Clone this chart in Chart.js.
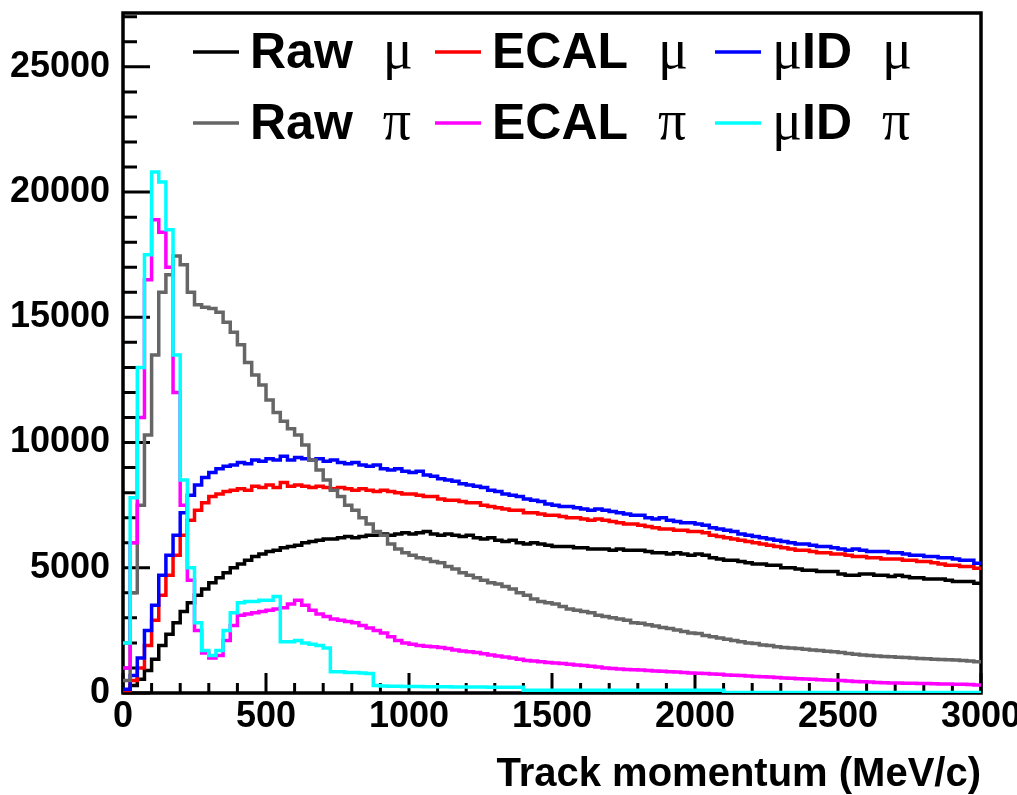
<!DOCTYPE html>
<html>
<head>
<meta charset="utf-8">
<title>Track momentum</title>
<script src="https://cdn.jsdelivr.net/npm/chart.js@4.4.1/dist/chart.umd.min.js"></script>
<style>
  html, body { margin: 0; padding: 0; background: #ffffff; }
  #wrap { width: 1017px; height: 795px; position: relative; }
</style>
</head>
<body>
<div id="wrap"><canvas id="c" width="1017" height="795"></canvas></div>
<script>
// Histogram binning: 120 bins of 25 MeV/c from 0 to 3000 MeV/c
const BIN_WIDTH = 25;
const binLowEdges = Array.from({ length: 120 }, (_, i) => i * BIN_WIDTH);

// Axis tick labels
const xTickValues = [0, 500, 1000, 1500, 2000, 2500, 3000];
const yTickValues = [0, 5000, 10000, 15000, 20000, 25000];

// Entries per bin, one row per 250 MeV/c
const rawMu = [
  80, 300, 550, 900, 1350, 1900, 2350, 2800, 3250, 3600,
  3900, 4150, 4400, 4600, 4800, 5000, 5150, 5300, 5450, 5550,
  5650, 5700, 5800, 5850, 5900, 6000, 6050, 6100, 6150, 6150,
  6200, 6250, 6200, 6250, 6300, 6300, 6350, 6300, 6350, 6400,
  6350, 6400, 6450, 6350, 6300, 6350, 6300, 6250, 6300, 6200,
  6150, 6200, 6100, 6050, 6100, 6000, 5950, 6000, 5950, 5900,
  5850, 5850, 5850, 5800, 5800, 5750, 5750, 5750, 5700, 5750,
  5700, 5700, 5700, 5650, 5600, 5600, 5550, 5600, 5550, 5500,
  5550, 5500, 5400, 5350, 5300, 5300, 5250, 5200, 5150, 5150,
  5100, 5100, 5000, 5000, 4950, 4900, 4900, 4850, 4850, 4850,
  4750, 4700, 4700, 4750, 4750, 4700, 4700, 4650, 4700, 4650,
  4600, 4600, 4550, 4550, 4550, 4500, 4450, 4450, 4450, 4380
];
const ecalMu = [
  100, 500, 1000, 1900, 2900, 3900, 4700, 5500, 6300, 6900,
  7300, 7600, 7850, 7950, 8050, 8100, 8150, 8100, 8250, 8200,
  8300, 8200, 8400, 8250, 8300, 8250, 8200, 8250, 8200, 8150,
  8200, 8150, 8100, 8150, 8100, 8050, 8100, 8050, 8000, 7950,
  7950, 7900, 7850, 7850, 7750, 7700, 7700, 7650, 7600, 7600,
  7500, 7450, 7400, 7350, 7300, 7300, 7200, 7200, 7150, 7100,
  7100, 7050, 7000, 7000, 6950, 6900, 6950, 6900, 6850, 6800,
  6750, 6750, 6700, 6650, 6600, 6550, 6550, 6500, 6500, 6450,
  6450, 6400, 6300, 6250, 6200, 6150, 6100, 6050, 6000, 5950,
  5900, 5850, 5800, 5750, 5700, 5700, 5650, 5600, 5600, 5550,
  5550, 5500, 5450, 5450, 5400, 5400, 5350, 5350, 5350, 5300,
  5300, 5250, 5250, 5200, 5150, 5100, 5100, 5050, 5050, 4980
];
const idMu = [
  150, 700, 1400, 2500, 3500, 4700, 5500, 6300, 7200, 7900,
  8300, 8600, 8800, 8950, 9050, 9100, 9200, 9150, 9300, 9250,
  9350, 9300, 9450, 9300, 9400, 9350, 9300, 9350, 9250, 9300,
  9200, 9150, 9200, 9100, 9050, 9100, 8950, 8900, 8950, 8850,
  8800, 8850, 8700, 8650, 8550, 8500, 8450, 8350, 8300, 8250,
  8200, 8100, 8050, 7950, 7900, 7850, 7750, 7700, 7650, 7550,
  7500, 7450, 7450, 7400, 7350, 7300, 7350, 7300, 7250, 7200,
  7150, 7100, 7100, 7000, 6950, 7000, 6900, 6850, 6800, 6800,
  6750, 6700, 6600, 6550, 6500, 6450, 6350, 6300, 6250, 6200,
  6150, 6100, 6050, 6000, 5950, 5950, 5900, 5850, 5850, 5800,
  5750, 5700, 5750, 5700, 5650, 5650, 5650, 5600, 5600, 5550,
  5500, 5500, 5450, 5450, 5400, 5400, 5350, 5300, 5300, 5180
];
const rawPi = [
  500, 4000, 7500, 10300, 13500, 16000, 16700, 17450, 17100, 16000,
  15500, 15400, 15350, 15200, 14800, 14400, 13900, 13200, 12700, 12300,
  11700, 11200, 10850, 10550, 10300, 9900, 9300, 8900, 8500, 8100,
  7850, 7500, 7300, 7000, 6750, 6450, 6300, 5950, 5750, 5600,
  5500, 5400, 5350, 5250, 5200, 5050, 4950, 4800, 4700, 4600,
  4500, 4400, 4350, 4250, 4150, 4000, 3900, 3750, 3650, 3600,
  3550, 3450, 3350, 3300, 3250, 3200, 3100, 3050, 3000, 2950,
  2900, 2800, 2780, 2720, 2680, 2620, 2580, 2520, 2460, 2400,
  2380, 2300, 2250, 2200, 2150, 2100, 2050, 2000, 1980, 1920,
  1900, 1850, 1820, 1800, 1780, 1750, 1720, 1700, 1670, 1650,
  1620, 1580, 1550, 1520, 1500, 1480, 1460, 1450, 1430, 1420,
  1400, 1380, 1370, 1350, 1340, 1330, 1320, 1300, 1280, 1250
];
const ecalPi = [
  1000, 6000, 11000, 16500, 18900, 18400, 17000, 12000, 7500, 4500,
  2500, 1600, 1400, 1500, 2100, 2700, 3100, 3150, 3200, 3250,
  3300, 3350, 3400, 3550, 3700, 3500, 3300, 3150, 3050, 2950,
  2900, 2850, 2800, 2700, 2600, 2500, 2400, 2250, 2100, 2000,
  1950, 1900, 1870, 1850, 1820, 1780, 1720, 1680, 1650, 1620,
  1570, 1520, 1480, 1440, 1400, 1350, 1300, 1280, 1250, 1220,
  1200, 1180, 1150, 1120, 1100, 1070, 1040, 1000, 980, 960,
  940, 930, 920, 900, 880, 870, 850, 840, 820, 800,
  790, 780, 760, 750, 720, 710, 700, 680, 660, 650,
  640, 620, 600, 590, 570, 560, 550, 530, 520, 510,
  500, 480, 460, 450, 440, 420, 410, 400, 400, 390,
  390, 380, 380, 370, 360, 360, 350, 350, 340, 320
];
const idPi = [
  2000, 7800, 13000, 17500, 20800, 20400, 18500, 13500, 8500, 5000,
  2800, 1700, 1500, 1700, 2500, 3200, 3600, 3650, 3650, 3700,
  3700, 3850, 2050, 2050, 2100, 2000, 1950, 1900, 1800, 850,
  850, 820, 820, 800, 780, 300, 280, 270, 270, 260,
  260, 260, 250, 250, 250, 250, 240, 240, 240, 240,
  240, 230, 230, 230, 230, 230, 110, 110, 110, 110,
  110, 110, 110, 110, 110, 110, 110, 110, 110, 110,
  110, 110, 110, 110, 110, 110, 110, 110, 110, 110,
  110, 110, 110, 110, 20, 20, 20, 20, 20, 20,
  20, 20, 20, 20, 20, 20, 20, 20, 20, 20,
  20, 20, 20, 20, 20, 20, 20, 20, 20, 20,
  20, 20, 20, 20, 20, 20, 20, 20, 20, 20
];

// Legend text pieces: bold sans words, Greek letters in serif
const legendLabels = {
  rawMu:  [['Raw', 'sans'], ['μ', 'serif']],
  ecalMu: [['ECAL', 'sans'], ['μ', 'serif']],
  idMu:   [['μ', 'serif'], ['ID', 'sans'], ['μ', 'serif']],
  rawPi:  [['Raw', 'sans'], ['π', 'serif']],
  ecalPi: [['ECAL', 'sans'], ['π', 'serif']],
  idPi:   [['μ', 'serif'], ['ID', 'sans'], ['π', 'serif']]
};

const SANS = '"Liberation Sans", Arial, Helvetica, sans-serif';
const SERIF = '"Liberation Serif", "Times New Roman", Times, serif';

// Histogram outline: each bin value held from its low edge to the next edge
function stepPoints(values) {
  const pts = values.map((v, i) => ({ x: binLowEdges[i], y: v }));
  pts.push({ x: binLowEdges[values.length - 1] + BIN_WIDTH, y: values[values.length - 1] });
  return pts;
}

function histDataset(key, values, color, order) {
  return {
    key,
    data: stepPoints(values),
    borderColor: color,
    backgroundColor: color,
    borderWidth: 3.5,
    pointRadius: 0,
    pointHoverRadius: 0,
    stepped: 'before',
    fill: false,
    tension: 0,
    order
  };
}

// Inside-pointing ticks and the frame
const frameAndTicks = {
  id: 'frameAndTicks',
  beforeDatasetsDraw(chart) {
    const { ctx, chartArea: a, scales: { x, y } } = chart;
    ctx.save();
    ctx.strokeStyle = '#000';
    ctx.lineWidth = 3;
    ctx.lineCap = 'butt';
    ctx.beginPath();
    for (let v = x.min; v <= x.max; v += 100) {
      const px = x.getPixelForValue(v);
      const len = v % 500 === 0 ? 20 : 10;
      ctx.moveTo(px, a.bottom);
      ctx.lineTo(px, a.bottom - len);
    }
    for (let v = 0; v <= y.max; v += 1000) {
      const py = y.getPixelForValue(v);
      const len = v % 5000 === 0 ? 27 : 14;
      ctx.moveTo(a.left, py);
      ctx.lineTo(a.left + len, py);
    }
    ctx.stroke();
    ctx.lineWidth = 3.5;
    ctx.strokeRect(a.left, a.top, a.right - a.left, a.bottom - a.top);
    ctx.restore();
  }
};

// Two-row, three-column legend inside the frame
const histLegend = {
  id: 'histLegend',
  afterDraw(chart) {
    const { ctx, chartArea: a } = chart;
    const colX = [70, 312, 592];
    const rowY = [39, 110];
    const lineLen = 46;
    const fonts = { sans: 'bold 50px ' + SANS, serif: '56px ' + SERIF };
    const byKey = {};
    chart.data.datasets.forEach(ds => { byKey[ds.key] = ds; });
    const layout = [['rawMu', 'ecalMu', 'idMu'], ['rawPi', 'ecalPi', 'idPi']];
    ctx.save();
    ctx.textBaseline = 'alphabetic';
    ctx.textAlign = 'left';
    layout.forEach((row, r) => {
      row.forEach((key, c) => {
        const ds = byKey[key];
        const x0 = a.left + colX[c];
        const ly = a.top + rowY[r];
        ctx.strokeStyle = ds.borderColor;
        ctx.lineWidth = 3.5;
        ctx.beginPath();
        ctx.moveTo(x0, ly);
        ctx.lineTo(x0 + lineLen, ly);
        ctx.stroke();
        let tx = x0 + lineLen + 11;
        const parts = legendLabels[key];
        parts.forEach((p, i) => {
          ctx.font = fonts[p[1]];
          ctx.fillStyle = '#000';
          if (i > 0 && !(parts[i - 1][1] === 'serif' && i === 1)) tx += 30;
          ctx.fillText(p[0], tx, ly + 16);
          tx += ctx.measureText(p[0]).width;
        });
      });
    });
    ctx.restore();
  }
};

const datasets = [
  histDataset('rawMu', rawMu, '#000000', 6),
  histDataset('ecalMu', ecalMu, '#ff0000', 5),
  histDataset('idMu', idMu, '#0000ff', 4),
  histDataset('rawPi', rawPi, '#666666', 3),
  histDataset('ecalPi', ecalPi, '#ff00ff', 2),
  histDataset('idPi', idPi, '#00ffff', 1)
];

const tickFont = { family: SANS, size: 36, weight: 'bold' };
const plainNumber = v => String(v);

new Chart(document.getElementById('c'), {
  type: 'line',
  data: { datasets },
  plugins: [frameAndTicks, histLegend],
  options: {
    responsive: false,
    animation: false,
    devicePixelRatio: 1,
    layout: { padding: { left: 0, top: 13, right: 36, bottom: 0 } },
    plugins: { legend: { display: false }, tooltip: { enabled: false } },
    events: [],
    scales: {
      x: {
        type: 'linear',
        min: 0,
        max: 3000,
        afterBuildTicks: s => { s.ticks = xTickValues.map(v => ({ value: v })); },
        afterFit: s => { s.height = 102; s.paddingLeft = 0; s.paddingRight = 0; },
        grid: { display: false, drawTicks: false },
        border: { display: false },
        ticks: { font: tickFont, color: '#000', padding: 2, maxRotation: 0, autoSkip: false, callback: plainNumber },
        title: {
          display: true,
          text: 'Track momentum (MeV/c)',
          align: 'end',
          color: '#000',
          font: { family: SANS, size: 40, weight: 'bold', lineHeight: 1.0 },
          padding: { top: 0, bottom: 0 }
        }
      },
      y: {
        type: 'linear',
        min: 0,
        max: 27150,
        afterBuildTicks: s => { s.ticks = yTickValues.map(v => ({ value: v })); },
        afterFit: s => { s.width = 123; s.paddingTop = 0; s.paddingBottom = 0; },
        grid: { display: false, drawTicks: false },
        border: { display: false },
        ticks: { font: tickFont, color: '#000', padding: 13, callback: plainNumber }
      }
    }
  }
});
</script>
</body>
</html>
